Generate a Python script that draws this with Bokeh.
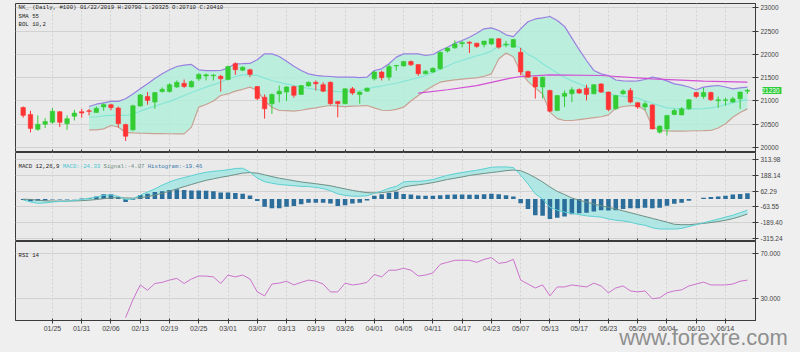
import math
from bokeh.plotting import figure
from bokeh.layouts import column
from bokeh.models import FixedTicker, Range1d, Label, PrintfTickFormatter, LinearAxis
from bokeh.embed import file_html
from bokeh.resources import INLINE

nan = float("nan")

dates = ["01/21", "01/22", "01/23", "01/24", "01/25", "01/28", "01/29", "01/30", "01/31",
         "02/01", "02/04", "02/05", "02/06", "02/07", "02/08", "02/12", "02/13", "02/14", "02/15",
         "02/18", "02/19", "02/20", "02/21", "02/22", "02/25", "02/26", "02/27", "02/28",
         "03/01", "03/04", "03/05", "03/06", "03/07", "03/08", "03/11", "03/12", "03/13", "03/14",
         "03/15", "03/18", "03/19", "03/20", "03/22", "03/25", "03/26", "03/27", "03/28", "03/29",
         "04/01", "04/02", "04/03", "04/04", "04/05", "04/08", "04/09", "04/10", "04/11", "04/12",
         "04/15", "04/16", "04/17", "04/18", "04/19", "04/22", "04/23", "04/24", "04/25", "04/26",
         "05/07", "05/08", "05/09", "05/10", "05/13", "05/14", "05/15", "05/16", "05/17", "05/20",
         "05/21", "05/22", "05/23", "05/24", "05/27", "05/28", "05/29", "05/30", "05/31",
         "06/03", "06/04", "06/05", "06/06", "06/07", "06/10", "06/11", "06/12", "06/13", "06/14",
         "06/17", "06/18", "06/19"]

opens = [20860, 20710, 20390, 20500, 20540, 20770, 20510, 20670, 20770, 20790,
         20750, 20870, 20920, 20850, 20495, 20380, 20890, 21095, 20975, 21200,
         21200, 21300, 21380, 21300, 21475, 21535, 21540, 21530, 21460, 21800,
         21660, 21670, 21310, 21080, 20940, 21150, 21190, 21310, 21140, 21320,
         21400, 21350, 21400, 20990, 20940, 21260, 21140, 21210, 21475, 21620,
         21510, 21750, 21750, 21845, 21780, 21585, 21620, 21690, 22070, 22140,
         22230, 22262, 22240, 22210, 22225, 22335, 22205, 22155, 22045, 21630,
         21510, 21300, 21225, 20795, 21100, 21155, 21245, 21275, 21155, 21365,
         21190, 20830, 21155, 21225, 20960, 20870, 20915, 20330, 20400, 20710,
         20700, 20830, 21180, 21095, 21180, 21005, 21010, 20975, 21045, 21210]
highs = [20880, 20790, 20690, 20630, 20850, 20780, 20690, 20810, 20830, 20830,
         20880, 20950, 20940, 20880, 20510, 20920, 21150, 21190, 21190, 21290,
         21380, 21440, 21460, 21440, 21600, 21590, 21580, 21560, 21760, 21830,
         21740, 21690, 21320, 21140, 21160, 21330, 21320, 21330, 21340, 21420,
         21440, 21400, 21420, 21000, 21270, 21300, 21210, 21290, 21640, 21650,
         21790, 21775, 21860, 21870, 21790, 21660, 21720, 22060, 22150, 22300,
         22283, 22280, 22250, 22290, 22340, 22345, 22290, 22330, 22140, 21650,
         21520, 21520, 21240, 21130, 21225, 21295, 21270, 21350, 21360, 21380,
         21200, 21130, 21250, 21280, 20980, 20990, 20930, 20470, 20700, 20830,
         20870, 21040, 21200, 21280, 21200, 21095, 21070, 21090, 21200, 21260]
lows = [20640, 20325, 20360, 20420, 20510, 20440, 20380, 20580, 20640, 20690,
        20740, 20790, 20800, 20430, 20140, 20350, 20880, 20920, 20830, 21180,
        21180, 21280, 21280, 21290, 21430, 21440, 21440, 21200, 21440, 21560,
        21640, 21510, 21020, 20620, 20720, 20970, 21000, 21070, 21130, 21310,
        21225, 21190, 20920, 20650, 20930, 21130, 20940, 21200, 21440, 21440,
        21440, 21650, 21740, 21750, 21540, 21570, 21600, 21670, 22040, 22120,
        22150, 22030, 22140, 22150, 22200, 22120, 22150, 22140, 21550, 21500,
        21050, 21050, 20760, 20780, 20870, 20975, 21150, 21010, 21140, 21170,
        20780, 20810, 21130, 20950, 20830, 20800, 20390, 20300, 20260, 20690,
        20690, 20810, 21060, 21045, 21000, 20850, 20900, 20960, 20830, 21150]
closes = [20690, 20410, 20500, 20560, 20780, 20540, 20620, 20740, 20740, 20775,
          20845, 20925, 20855, 20510, 20240, 20895, 21130, 21010, 21180, 21250,
          21350, 21400, 21310, 21420, 21570, 21560, 21555, 21475, 21740, 21670,
          21725, 21570, 21050, 20830, 21140, 21210, 21300, 21120, 21330, 21400,
          21370, 21210, 20940, 20940, 21260, 21170, 21190, 21275, 21620, 21500,
          21740, 21760, 21845, 21775, 21585, 21640, 21700, 22045, 22135, 22225,
          22255, 22240, 22170, 22285, 22335, 22155, 22225, 22320, 21620, 21510,
          21300, 21510, 20780, 21115, 21165, 21240, 21170, 21140, 21350, 21190,
          20815, 21115, 21215, 20975, 20870, 20940, 20400, 20460, 20690, 20795,
          20830, 21025, 21095, 21180, 21025, 21025, 21025, 21045, 21190, 21230]

bb_upper = [nan] * 9 + [
    20880, 20930, 20960, 20990, 20990, 21046, 21150, 21260, 21368, 21480,
    21583, 21670, 21740, 21770, 21783, 21668, 21650, 21650, 21654, 21711,
    21797, 21800, 21805, 21883, 22012, 22011, 21954, 21854, 21746, 21653,
    21582, 21550, 21532, 21525, 21510, 21510, 21510, 21500, 21510, 21653,
    21690, 21797, 21940, 22011, 22011, 22011, 21975, 21997, 22083, 22154,
    22240, 22297, 22369, 22455, 22548, 22570, 22512, 22420, 22380, 22548,
    22700, 22760, 22785, 22813, 22727, 22600, 22350, 22100, 21868, 21654,
    21582, 21546, 21450, 21430, 21425, 21430, 21460, 21511, 21480, 21430,
    21367, 21340, 21300, 21239, 21296, 21320, 21332, 21300, 21260, 21280,
    21296]
bb_middle = [nan] * 9 + [
    20652, 20660, 20680, 20690, 20688, 20688, 20720, 20780, 20836, 20890,
    20939, 20990, 21050, 21117, 21180, 21240, 21296, 21350, 21400, 21475,
    21520, 21561, 21560, 21547, 21490, 21439, 21400, 21360, 21331, 21300,
    21270, 21250, 21230, 21210, 21202, 21200, 21210, 21224, 21260, 21296,
    21320, 21353, 21380, 21420, 21460, 21500, 21546, 21610, 21680, 21750,
    21820, 21868, 21920, 21970, 22011, 22070, 22180, 22200, 22210, 22130,
    22000, 21920, 21800, 21700, 21600, 21510, 21430, 21370, 21296, 21250,
    21200, 21160, 21120, 21100, 21080, 21060, 21000, 20950, 20900, 20850,
    20840, 20830, 20830, 20830, 20835, 20850, 20880, 20920, 20960, 21000,
    21030]
bb_lower = [nan] * 9 + [
    20380, 20380, 20400, 20473, 20440, 20323, 20315, 20309, 20305, 20300,
    20298, 20296, 20294, 20294, 20437, 20867, 20924, 21000, 21117, 21150,
    21210, 21250, 21296, 21225, 21000, 20866, 20795, 20790, 20780, 20800,
    20830, 20852, 20880, 20902, 20890, 20880, 20890, 20895, 20902, 20850,
    20800, 20795, 20820, 20866, 21000, 21117, 21224, 21320, 21403, 21430,
    21453, 21470, 21485, 21496, 21530, 21582, 21900, 22030, 21950, 21620,
    21420, 21280, 21150, 20760, 20620, 20580, 20580, 20600, 20620, 20640,
    20660, 20700, 20840, 20880, 20900, 20900, 20800, 20450, 20366, 20355,
    20351, 20351, 20355, 20360, 20362, 20366, 20420, 20509, 20650, 20750,
    20830]

sma_idx = [54, 58, 62, 66, 68, 72, 79, 86, 93, 99]
sma_val = [21167, 21240, 21330, 21470, 21525, 21561, 21546, 21475, 21425, 21403]

macd = [-8, -24.33, -35, -32, -25, -20, -18, -12, -5, 5,
        15, 28, 32, 20, -5, 0, 30, 55, 80, 110,
        135, 155, 170, 185, 200, 212, 220, 225, 232, 242,
        245, 215, 165, 137, 125, 115, 110, 105, 100, 98,
        92, 82, 65, 40, 28, 22, 22, 25, 45, 62,
        85, 100, 135, 140, 140, 145, 155, 172, 188, 200,
        210, 220, 228, 240, 252, 255, 255, 250, 190, 120,
        40, 0, -67, -90, -105, -115, -125, -135, -140, -145,
        -160, -170, -175, -185, -200, -210, -230, -240, -240, -240,
        -235, -220, -205, -190, -175, -160, -145, -130, -110, -90]
signal = [-2, -4.07, -10, -15, -17, -17, -17, -16, -14, -10,
          -5, 2, 8, 10, 8, 6, 10, 18, 30, 45,
          62, 80, 98, 115, 132, 148, 160, 172, 182, 194,
          205, 210, 205, 192, 178, 165, 155, 145, 135, 128,
          121, 113, 105, 92, 80, 68, 58, 50, 48, 50,
          57, 66, 95, 105, 112, 120, 130, 142, 155, 165,
          175, 187, 195, 203, 210, 217, 225, 230, 225, 200,
          170, 135, 95, 60, 35, 7, -10, -25, -40, -55,
          -67, -80, -95, -110, -125, -140, -155, -170, -185, -202,
          -205, -205, -200, -195, -188, -180, -170, -157, -140, -120]
histogram = [-8, -19.46, -15, -12, -5, -4, -4, -3, 3, 5,
             20, 37, 37, 17, -25, -7, 32, 42, 55, 62,
             72, 77, 72, 67, 67, 65, 62, 52, 52, 47,
             42, 27, -17, -62, -75, -75, -62, -57, -42, -30,
             -30, -30, -37, -57, -50, -37, -30, -12, 25, 37,
             50, 57, 40, 35, 28, 25, 25, 30, 33, 35,
             35, 33, 33, 37, 42, 38, 30, 20, -35, -80,
             -130, -135, -160, -150, -140, -122, -115, -110, -100, -90,
             -93, -90, -80, -75, -75, -70, -75, -70, -55, -38,
             -30, -15, 0, 10, 15, 20, 25, 35, 40, 45]

rsi = [nan] * 14 + [
    12.7, 28.5, 41.7, 37, 43, 44, 46, 47.5, 43, 47,
    49.6, 49.6, 48.8, 43, 50.5, 48.8, 50.5, 47, 35.5, 32,
    42.5, 43.3, 45, 41.7, 44, 46, 45, 42.5, 35.5, 35.5,
    43.3, 41.7, 42.5, 44, 51, 48.8, 54.8, 54.8, 56.5, 54.8,
    49.6, 50.5, 52.3, 60, 61.8, 63.6, 63.6, 63.6, 61.8, 64.4,
    66, 60.9, 61.8, 64.4, 46, 42.5, 39, 41.7, 32, 39.9,
    39.9, 41.7, 40.8, 39.9, 43.3, 40.8, 34.7, 39, 40.8, 36.4,
    35.5, 36.4, 29.4, 30.3, 34.7, 36.4, 37.3, 40.8, 42.5, 44.2,
    41.7, 41.7, 41.7, 42.5, 45, 46]

price_ticks = [20000, 20500, 21000, 21500, 22000, 22500, 23000]
macd_ticks = [-315.24, -189.40, -63.55, 62.29, 188.14, 313.98]
rsi_ticks = [30, 70]
watermark = "www.forexre.com"

n = len(dates)
idx = list(range(n))
tick_idx = list(range(4, n, 4))

PAGE_BG = "#efefef"
PLOT_BG = "#eaeaea"
GRID = "#d2d2d2"
AXIS = "#3a3a3a"
LBL = "#444444"
UP = "#33cc33"
DOWN = "#ff3333"
MONO = "Liberation Mono"
SANS = "Liberation Sans"

x_range = Range1d(-1.05, 100.1)
LEFT, RIGHT = 15, 45
px_per_x = 740 / (x_range.end - x_range.start)


def xpx(px):
    return x_range.start + (px - LEFT) / px_per_x


def style_x(ax, labels):
    ax.ticker = FixedTicker(ticks=tick_idx)
    ax.axis_line_color = AXIS
    ax.major_tick_line_color = AXIS
    ax.minor_tick_line_color = None
    ax.major_label_text_font = SANS
    ax.major_label_text_color = LBL
    if labels:
        ax.major_label_overrides = {i: dates[i] for i in tick_idx}
        ax.major_tick_in = 2
        ax.major_tick_out = 3
        ax.major_label_text_font_size = "7px"
        ax.major_label_standoff = 1
    else:
        ax.major_label_overrides = {i: "" for i in tick_idx}
        ax.major_tick_in = 3
        ax.major_tick_out = 0
        ax.major_label_text_font_size = "0px"
        ax.major_label_standoff = 0


def make_fig(height, yr, top, bottom, yticks, fmt):
    p = figure(width=800, height=height, x_range=x_range, y_range=yr,
               output_backend="svg", toolbar_location=None,
               y_axis_location="right", x_axis_location="below",
               min_border_left=LEFT, min_border_right=RIGHT,
               min_border_top=top, min_border_bottom=bottom)
    p.background_fill_color = PLOT_BG
    p.border_fill_color = PAGE_BG
    p.outline_line_color = AXIS
    p.outline_line_width = 1
    p.xgrid.ticker = FixedTicker(ticks=tick_idx)
    p.xgrid.grid_line_color = GRID
    p.xgrid.grid_line_dash = "2 2"
    p.ygrid.ticker = FixedTicker(ticks=yticks)
    p.ygrid.grid_line_color = GRID
    ax = p.yaxis[0]
    ax.ticker = FixedTicker(ticks=yticks)
    if fmt:
        ax.formatter = PrintfTickFormatter(format=fmt)
    ax.axis_line_color = AXIS
    ax.major_tick_line_color = AXIS
    ax.major_tick_in = 3
    ax.major_tick_out = 3
    ax.minor_tick_line_color = None
    ax.major_label_text_font = SANS
    ax.major_label_text_font_size = "6.5px"
    ax.major_label_text_color = LBL
    ax.major_label_standoff = 2
    style_x(p.xaxis[0], bottom > 20)
    return p


# ---------------- price panel ----------------
p1 = make_fig(152, Range1d(19893, 23092), 3, 0, price_ticks, "%d")
p1.varea(x=idx, y1=bb_lower, y2=bb_upper, fill_color="#b4eedc", fill_alpha=0.85)
p1.line(idx, bb_upper, line_color="#9a80e0", line_width=1.2)
p1.line(idx, bb_lower, line_color="#c8a293", line_width=1.2)
p1.line(idx, bb_middle, line_color="#86e6d6", line_width=1.2)
p1.line(sma_idx, sma_val, line_color="#d24fd6", line_width=1.2)

colors = [UP if c >= o else DOWN for o, c in zip(opens, closes)]
p1.segment(x0=idx, y0=lows, x1=idx, y1=highs, line_color=colors, line_width=1)
p1.vbar(x=idx, width=0.62, top=[max(o, c) for o, c in zip(opens, closes)],
        bottom=[min(o, c) for o, c in zip(opens, closes)],
        fill_color=colors, line_color=colors, line_width=0.5)

py_per = (23092 - 19893) / 149.0
hdr = [("NK_ (Daily, #100) %s/2019 H:%d L:%d O:%d C:%d" % (dates[1], highs[1], lows[1], opens[1], closes[1]), 7.3),
       ("SMA 55", 15.7), ("BOL 10,2", 24.0)]
for t, ypx in hdr:
    p1.add_layout(Label(x=xpx(18), y=23092 - (ypx - 3) * py_per, text=t,
                        text_font=MONO, text_font_size="5.7px", text_color="#222222",
                        text_baseline="middle"))

# last-price marker: an extra right axis with a single tick drawn as a green box
last_ax = LinearAxis(ticker=FixedTicker(ticks=[closes[-1]]),
                     formatter=PrintfTickFormatter(format="%d"))
last_ax.axis_line_color = None
last_ax.minor_tick_line_color = None
last_ax.major_tick_line_color = "#2fcc3c"
last_ax.major_tick_line_width = 7
last_ax.major_tick_line_cap = "butt"
last_ax.major_tick_in = 19
last_ax.major_tick_out = 0
last_ax.major_label_standoff = -20
last_ax.major_label_text_font = SANS
last_ax.major_label_text_font_size = "6.5px"
last_ax.major_label_text_color = "white"
p1.add_layout(last_ax, "right")

# ---------------- MACD panel ----------------
m_lo, m_hi = -339.1, 369.7
p2 = make_fig(89, Range1d(m_lo, m_hi), 0, 0, macd_ticks, "%.2f")
p2.varea(x=idx, y1=macd, y2=signal, fill_color="#a6e6e4", fill_alpha=0.85)
p2.vbar(x=idx, width=0.62, top=histogram, bottom=0, fill_color="#2b6e9b", line_color=None)
p2.line(idx, signal, line_color="#6e8f84", line_width=1)
p2.line(idx, macd, line_color="#5ccfd2", line_width=1)
mp = (m_hi - m_lo) / 89.0
my = m_hi - (165.5 - 152) * mp
cw = 3.4 / px_per_x
parts = [("MACD 12,26,9", "#222222", 0), ("MACD:%.2f" % macd[1], "#45c6d0", 13),
         ("Signal:%.2f" % signal[1], "#6e8f84", 25), ("Histogram:%.2f" % histogram[1], "#3b79aa", 38)]
for t, col, off in parts:
    p2.add_layout(Label(x=xpx(18) + off * cw, y=my, text=t, text_font=MONO,
                        text_font_size="5.7px", text_color=col, text_baseline="middle"))

# ---------------- RSI panel ----------------
r_lo, r_hi = 10.1, 80.3
p3 = make_fig(111, Range1d(r_lo, r_hi), 0, 31, rsi_ticks, "%.3f")
p3.line(idx, rsi, line_color="#cc72cc", line_width=1)
rp = (r_hi - r_lo) / 80.0
p3.add_layout(Label(x=xpx(18), y=r_hi - (255 - 241) * rp, text="RSI 14", text_font=MONO,
                    text_font_size="5.7px", text_color="#222222", text_baseline="middle"))

# watermark: a second bottom axis carrying one label
wm_x = xpx(703)
wm_ax = LinearAxis(ticker=FixedTicker(ticks=[wm_x]))
wm_ax.major_label_overrides = {wm_x: watermark}
wm_ax.axis_line_color = None
wm_ax.major_tick_line_color = None
wm_ax.minor_tick_line_color = None
wm_ax.major_tick_in = 0
wm_ax.major_tick_out = 0
wm_ax.major_label_standoff = -10
wm_ax.major_label_text_font = SANS
wm_ax.major_label_text_font_size = "22px"
wm_ax.major_label_text_color = "#8f8f8f"
p3.add_layout(wm_ax, "below")

layout = column(p1, p2, p3, spacing=0)
layout.styles = {"background-color": PAGE_BG}

html = file_html(layout, INLINE, title="NK chart")
html = html.replace("<body>", '<body style="margin:0;background:%s;overflow:hidden">' % PAGE_BG)
open("out.html", "w").write(html)
